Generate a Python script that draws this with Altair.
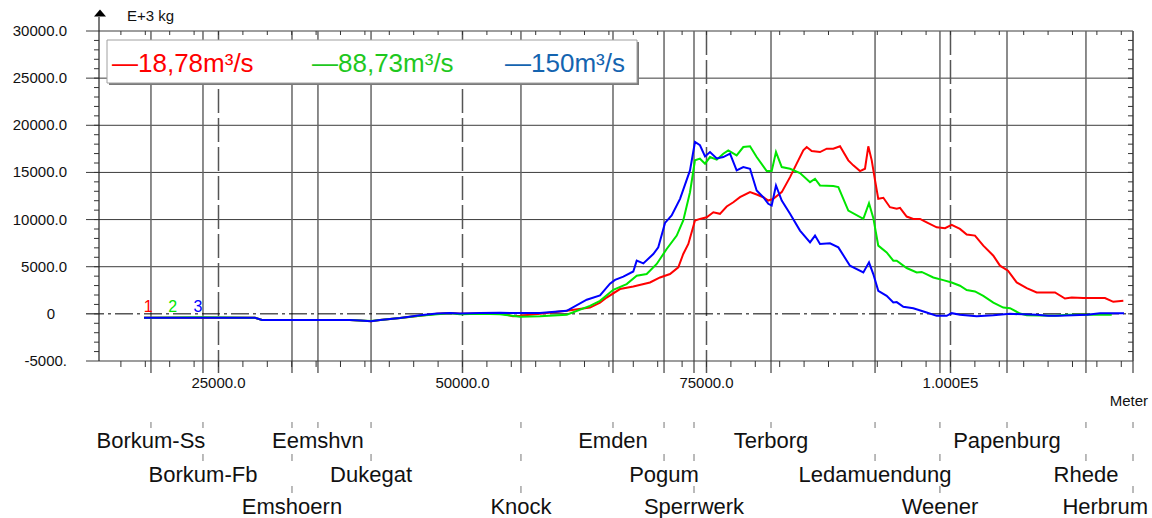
import altair as alt
import pandas as pd

# ---------------------------------------------------------------------------
# Suspended sediment load along the Ems (Borkum -> Herbrum), three discharges
# distance in metres, load in E+3 kg
# ---------------------------------------------------------------------------

red_x = [17370, 23100, 28740, 29460, 33350, 38470, 39500, 40630, 41550, 43600,
         45650, 47390, 48720, 49740, 51790, 53840, 55170, 55890, 57940, 60680,
         63060, 64090, 64770, 66140, 67500, 69210, 70240, 71260, 72110, 72620,
         73140, 73820, 74330, 75020, 75700, 76380, 77070, 77750, 78430, 79460,
         80140, 80820, 81330, 81840, 82710, 83560, 84240, 84920, 85270, 85780,
         86630, 87320, 87990, 88680, 89530, 90040, 90730, 91240, 91580, 91930,
         92270, 92600, 93120, 93800, 94490, 94830, 95510, 96190, 96880, 97560,
         98590, 99440, 100120, 100970, 101660, 102510, 103360, 104390, 105070, 105890,
         106780, 107810, 108830, 110710, 111730, 112420, 113610, 115830, 116680, 117710]
red_y = [-400, -400, -420, -640, -640, -640, -700, -780, -640, -450,
         -200, 0, 80, 0, 50, 60, -250, -200, 20, 320,
         670, 1200, 1730, 2630, 2900, 3330, 3860, 4220, 4930, 6350,
         7410, 9900, 10070, 10250, 10780, 10610, 11390, 11840, 12370, 12910,
         12660, 12370, 12020, 12200, 12910, 14500, 15930, 17340, 17690, 17270,
         17160, 17520, 17520, 17770, 16280, 15750, 15140, 15390, 17770, 16280,
         14150, 12200, 12310, 11310, 11140, 11240, 10320, 10070, 10070, 9710,
         9180, 9080, 9440, 9010, 8410, 8300, 7240, 6170, 5110, 4580,
         3330, 2730, 2270, 2270, 1630, 1730, 1680, 1680, 1280, 1380]

green_x = [17370, 23100, 28740, 29460, 33350, 38470, 39500, 40630, 41550, 43600,
           45650, 47390, 48720, 49740, 51790, 53840, 55890, 57940, 60680, 63060,
           64090, 65450, 66820, 67850, 68870, 69900, 70920, 71950, 72620, 73310,
           73820, 74330, 74850, 75360, 76050, 76720, 77230, 78090, 78770, 79460,
           80140, 81170, 81680, 82120, 82710, 83560, 84580, 85610, 86120, 86630,
           87990, 88510, 89530, 91070, 91650, 92090, 92600, 93460, 94140, 94490,
           95510, 96540, 97050, 98240, 99260, 100120, 100970, 101660, 102510, 103360,
           104390, 105410, 106100, 107120, 107810, 110710, 112000, 116520]
green_y = [-400, -350, -420, -640, -640, -640, -700, -760, -640, -450,
           -200, -30, 60, -50, 0, -50, -300, -250, -100, 850,
           1380, 2550, 3160, 4040, 4220, 5290, 6880, 8300, 9900, 12900,
           16280, 16460, 15930, 16630, 16350, 16990, 17340, 16810, 17690, 17770,
           16630, 15140, 15140, 17160, 15570, 15390, 14930, 13970, 14330, 13620,
           13550, 13440, 10960, 10080, 11740, 10180, 7240, 6520, 5640, 5640,
           4860, 4400, 4450, 3860, 3580, 3330, 2980, 2520, 2380, 1915,
           1200, 670, 600, 30, -150, -200, -100, -100]

blue_x = [17370, 23100, 28740, 29460, 33350, 38470, 39500, 40630, 41550, 43600,
          45650, 47390, 48720, 49740, 51790, 53840, 55890, 57940, 60680, 62730,
          64090, 65110, 65630, 66480, 67500, 67850, 68530, 69550, 70060, 70750,
          71430, 72290, 73310, 73820, 74330, 74850, 75360, 76050, 76720, 77410,
          78090, 78770, 79460, 80140, 80820, 81330, 81680, 82120, 82710, 83560,
          84580, 85610, 86120, 86630, 87650, 88510, 89700, 91070, 91650, 92090,
          92600, 93460, 94140, 94490, 95170, 96190, 97560, 98590, 99610, 100120,
          100970, 102690, 104390, 106100, 108830, 110000, 111000, 114000, 115320, 117780]
blue_y = [-400, -400, -420, -640, -640, -640, -700, -780, -640, -450,
          -150, 50, 100, 30, 100, 120, 80, 100, 320, 1500,
          1950, 3200, 3600, 3950, 4500, 5640, 5350, 6350, 7050, 9650,
          10430, 12200, 15210, 18230, 17880, 16700, 17160, 16490, 16630, 17000,
          15210, 15570, 15390, 13090, 12370, 11670, 11490, 13620, 12020, 10610,
          8830, 7590, 8300, 7410, 7480, 7050, 5110, 4400, 5460, 4220,
          2450, 1915, 1200, 1250, 745, 600, 140, -210, -210, 75,
          -100, -250, -150, 0, -100, -200, -200, -100, 75, 75]

series_ids = ["1", "2", "3"]
series_names = ["\u201418,78m\u00b3/s", "\u201488,73m\u00b3/s", "\u2014150m\u00b3/s"]
tag_x = [17800, 20300, 22900]          # where the curve numbers sit

station_names = ["Borkum-Ss", "Borkum-Fb", "Emshoern", "Eemshvn", "Dukegat",
                 "Knock", "Emden", "Pogum", "Sperrwerk", "Terborg",
                 "Ledamuendung", "Weener", "Papenburg", "Rhede", "Herbrum"]
station_m = [18080, 23410, 32530, 35190, 40630, 55990, 65420, 70650, 73720,
             81610, 92270, 98920, 105790, 113880, 118700]
station_row = [1, 2, 3, 1, 2, 3, 1, 2, 3, 1, 2, 3, 1, 2, 3]

x_major = [25000, 50000, 75000, 100000]
x_major_labels = ["25000.0", "50000.0", "75000.0", "1.000E5"]
x_minor = list(range(15000, 118001, 2500))
y_major = [30000, 25000, 20000, 15000, 10000, 5000, 0, -5000]
y_major_labels = ["30000.0", "25000.0", "20000.0", "15000.0", "10000.0", "5000.0", "0", "-5000."]
y_minor = list(range(-4000, 30000, 1000))

# ---------------------------------------------------------------------------
W, H = 1034, 330
FONT = "Liberation Sans"
LINE_COLORS = ["#ff0000", "#00e600", "#0000ff"]
TEXT_COLORS = ["#ff0000", "#1ec81e", "#1464b0"]

xs = alt.Scale(domain=[12756, 118700], zero=False, nice=False)
ys = alt.Scale(domain=[-5000, 30000], zero=False, nice=False)


def X(field="x"):
    return alt.X(f"{field}:Q", scale=xs, axis=None)


def Y(field="y"):
    return alt.Y(f"{field}:Q", scale=ys, axis=None)


curves = pd.concat([
    pd.DataFrame({"x": red_x, "y": red_y, "s": "1"}),
    pd.DataFrame({"x": green_x, "y": green_y, "s": "2"}),
    pd.DataFrame({"x": blue_x, "y": blue_y, "s": "3"}),
], ignore_index=True)

stations = pd.DataFrame({"x": station_m, "name": station_names, "row": station_row})
one = pd.DataFrame({"k": [0]})

# horizontal grid (every 5000) and frame lines
hgrid = alt.Chart(pd.DataFrame({"y": [5000, 10000, 15000, 20000, 25000, 30000]})).mark_rule(
    color="#3c3c3c", strokeWidth=1).encode(y=Y(), x=alt.value(-13), x2=alt.value(W))
bottom = alt.Chart(pd.DataFrame({"y": [-5000]})).mark_rule(
    color="#3c3c3c", strokeWidth=1.2).encode(y=Y(), x=alt.value(-13), x2=alt.value(W))
zero = alt.Chart(pd.DataFrame({"y": [0]})).mark_rule(
    color="#000000", strokeWidth=1, strokeDash=[18, 4, 3, 4]).encode(
    y=Y(), x=alt.value(-13), x2=alt.value(W))
left_axis = alt.Chart(one).mark_rule(color="#222222", strokeWidth=1.2).encode(
    x=alt.value(0), y=alt.value(-14), y2=alt.value(H))
right_axis = alt.Chart(one).mark_rule(color="#555555", strokeWidth=1.2).encode(
    x=alt.value(W), y=alt.value(0), y2=alt.value(H))
arrow = alt.Chart(one).mark_point(
    shape="M-1,0.6L0,-0.6L1,0.6Z", filled=True, color="#000000", opacity=1, size=144).encode(
    x=alt.value(1), y=alt.value(-18))

# vertical station lines and dashed km grid
vstation = alt.Chart(stations).mark_rule(color="#666666", strokeWidth=1.5).encode(
    x=X(), y=alt.value(0), y2=alt.value(H + 12))
vmajor = alt.Chart(pd.DataFrame({"x": x_major})).mark_rule(
    color="#555555", strokeWidth=1.5, strokeDash=[24, 5]).encode(
    x=X(), y=alt.value(0), y2=alt.value(H + 12))

# minor ticks
xt_bottom = alt.Chart(pd.DataFrame({"x": x_minor})).mark_rule(color="#333333").encode(
    x=X(), y=alt.value(H), y2=alt.value(H + 6))
xt_top = alt.Chart(pd.DataFrame({"x": x_minor})).mark_rule(color="#333333").encode(
    x=X(), y=alt.value(0), y2=alt.value(4))
yt_left = alt.Chart(pd.DataFrame({"y": y_minor})).mark_rule(color="#333333").encode(
    y=Y(), x=alt.value(-5), x2=alt.value(0))
yt_right = alt.Chart(pd.DataFrame({"y": y_minor})).mark_rule(color="#333333").encode(
    y=Y(), x=alt.value(W - 5), x2=alt.value(W))

# axis labels
ylab_df = pd.DataFrame({"y": y_major, "label": y_major_labels})
ylab = alt.Chart(ylab_df).transform_filter("datum.y != 0").mark_text(
    align="right", baseline="middle", fontSize=15, font=FONT, color="#111111").encode(
    y=Y(), x=alt.value(-32), text="label:N")
ylab0 = alt.Chart(ylab_df).transform_filter("datum.y == 0").mark_text(
    align="center", baseline="middle", fontSize=15, font=FONT, color="#111111").encode(
    y=Y(), x=alt.value(-48), text="label:N")
xlab = alt.Chart(pd.DataFrame({"x": x_major, "label": x_major_labels})).mark_text(
    align="center", baseline="alphabetic", fontSize=15, font=FONT, color="#111111").encode(
    x=X(), y=alt.value(357), text="label:N")
unit_y = alt.Chart(one).mark_text(
    align="left", baseline="alphabetic", fontSize=15, font=FONT, color="#111111",
    text="E+3 kg").encode(x=alt.value(28), y=alt.value(-10))
unit_x = alt.Chart(one).mark_text(
    align="right", baseline="alphabetic", fontSize=15, font=FONT, color="#111111",
    text="Meter").encode(x=alt.value(1049), y=alt.value(375))

# station names in three staggered rows, each with small guide ticks above
ROW_BASE = {1: 417, 2: 450.5, 3: 482.5}
ROW_TICK = {1: (391, 397), 2: (423, 430), 3: (455, 462)}
station_layers = []
last = station_names[-1]
for r in (1, 2, 3):
    t0, t1 = ROW_TICK[r]
    station_layers.append(
        alt.Chart(stations).transform_filter(f"datum.row >= {r}").mark_rule(
            color="#777777", strokeWidth=1).encode(x=X(), y=alt.value(t0), y2=alt.value(t1)))
    station_layers.append(
        alt.Chart(stations).transform_filter(
            f"datum.row == {r} && datum.name != '{last}'").mark_text(
            align="center", baseline="alphabetic", fontSize=22, font=FONT, color="#111111").encode(
            x=X(), y=alt.value(ROW_BASE[r]), text="name:N"))
station_layers.append(
    alt.Chart(stations).transform_filter(f"datum.name == '{last}'").mark_text(
        align="right", baseline="alphabetic", fontSize=22, font=FONT, color="#111111", dx=15).encode(
        x=X(), y=alt.value(ROW_BASE[3]), text="name:N"))

# curves
lines = alt.Chart(curves).mark_line(strokeWidth=2).encode(
    x=X(), y=Y(),
    color=alt.Color("s:N", scale=alt.Scale(domain=series_ids, range=LINE_COLORS), legend=None))
tags = alt.Chart(pd.DataFrame({"x": tag_x, "y": [0, 0, 0], "s": series_ids})).mark_text(
    align="center", baseline="alphabetic", fontSize=16, font=FONT, dy=-2).encode(
    x=X(), y=Y(), text="s:N",
    color=alt.Color("s:N", scale=alt.Scale(domain=series_ids, range=LINE_COLORS), legend=None))

# legend box
shadow = alt.Chart(one).mark_rect(color="#7a7a7a").encode(
    x=alt.value(10), x2=alt.value(540), y=alt.value(11), y2=alt.value(54))
box = alt.Chart(one).mark_rect(fill="#ffffff", stroke="#a0a0a0", strokeWidth=1).encode(
    x=alt.value(8), x2=alt.value(538), y=alt.value(9), y2=alt.value(52))
legend_x = [13, 213, 406]
legend_text = [
    alt.Chart(one).mark_text(align="left", baseline="alphabetic", fontSize=26, font=FONT,
                             color=TEXT_COLORS[i], text=series_names[i]).encode(
        x=alt.value(legend_x[i]), y=alt.value(41))
    for i in range(3)
]

chart = alt.layer(
    hgrid, vmajor, vstation, zero, bottom, left_axis, right_axis,
    xt_bottom, xt_top, yt_left, yt_right,
    lines, tags,
    shadow, box, *legend_text,
    ylab, ylab0, xlab, unit_y, unit_x, arrow,
    *station_layers,
).properties(
    width=W, height=H,
    padding={"left": 99, "top": 31, "right": 19, "bottom": 157},
    autosize=alt.AutoSizeParams(type="none"),
    background="#ffffff",
).configure_view(strokeWidth=0)

chart.save("out.html", embed_options={"renderer": "svg", "actions": False})
